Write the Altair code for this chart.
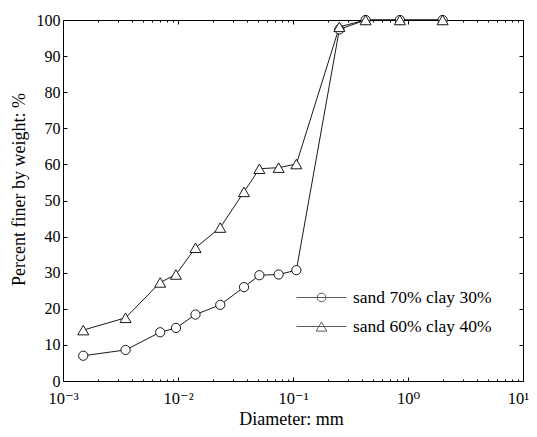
import altair as alt
import pandas as pd

# ---- data ----
diameter_mm = [0.0015, 0.0035, 0.0070, 0.0096, 0.0142, 0.0233, 0.0375, 0.051,
               0.075, 0.107, 0.253, 0.428, 0.85, 2.0]
finer_sand70_clay30 = [7.0, 8.6, 13.5, 14.7, 18.4, 21.1, 26.0, 29.3, 29.5, 30.7,
                       97.4, 100, 100, 100]
finer_sand60_clay40 = [14.1, 17.5, 27.3, 29.5, 36.9, 42.5, 52.4, 58.8, 59.1, 60.1,
                       98.1, 100, 100, 100]
series_names = ["sand 70% clay 30%", "sand 60% clay 40%"]

x_major = [0.001, 0.01, 0.1, 1, 10]
x_major_labels = ["10⁻³", "10⁻²", "10⁻¹", "10⁰", "10¹"]
x_minor = [m * 10.0 ** k for k in range(-3, 1) for m in range(2, 10)]
y_ticks = [0, 10, 20, 30, 40, 50, 60, 70, 80, 90, 100]

rows = []
for name, vals in zip(series_names, [finer_sand70_clay30, finer_sand60_clay40]):
    for i, (d, v) in enumerate(zip(diameter_mm, vals)):
        rows.append({"series": name, "diameter": d, "finer": v, "idx": i})
df = pd.DataFrame(rows)

FONT = "'Liberation Serif', 'Times New Roman', 'DejaVu Serif', serif"

x_scale = alt.Scale(type="log", domain=[0.001, 10], nice=False)
y_scale = alt.Scale(domain=[0, 100], nice=False, zero=False)

parts = [f"abs(datum.value - {v}) < {v * 0.01} ? '{l}'" for v, l in zip(x_major, x_major_labels)]
label_expr = " : ".join(parts) + " : ''"

common = dict(domain=False, grid=False, tickColor="black", tickWidth=1,
              labelFont=FONT, titleFont=FONT, labelColor="black", titleColor="black",
              labelFlush=False, labelOverlap=False, labelBound=False)

ax_bottom = alt.Axis(orient="bottom", values=x_major, labelExpr=label_expr,
                     offset=-4, tickSize=4, labelPadding=22, labelBaseline="alphabetic",
                     labelOffset={"condition": {"test": "datum.value > 5", "value": -5},
                                  "value": 0},
                     labelFontSize=16.5, title="Diameter: mm", titleFontSize=18,
                     titleFontWeight="normal", titleX=228, titleY=47,
                     titleBaseline="alphabetic", titleAlign="center", **common)
ax_bottom_minor = alt.Axis(orient="bottom", values=x_minor, offset=-2, tickSize=2,
                           labels=False, title=None, **common)
ax_top = alt.Axis(orient="top", values=x_major, offset=-4, tickSize=4,
                  labels=False, title=None, **common)
ax_top_minor = alt.Axis(orient="top", values=x_minor, offset=-2, tickSize=2,
                        labels=False, title=None, **common)
ax_left = alt.Axis(orient="left", values=y_ticks, offset=-4, tickSize=4, labelPadding=3,
                   labelFontSize=16, title="Percent finer by weight: %", titleFontSize=18,
                   titleFontWeight="normal", titleAngle=-90, titleX=-48, titleY=169,
                   titleBaseline="middle", titleAlign="center", **common)
ax_right = alt.Axis(orient="right", values=y_ticks, offset=-4, tickSize=4,
                    labels=False, title=None, **common)

base = alt.Chart(df)

lines = base.mark_line(color="black", strokeWidth=0.9).encode(
    x=alt.X("diameter:Q", scale=x_scale, axis=ax_bottom),
    y=alt.Y("finer:Q", scale=y_scale, axis=ax_left),
    detail="series:N",
    order="idx:Q",
)

points = base.mark_point(filled=True, fill="white", stroke="black",
                         strokeWidth=0.9, opacity=1).encode(
    x=alt.X("diameter:Q", scale=x_scale, axis=ax_top),
    y=alt.Y("finer:Q", scale=y_scale, axis=ax_right),
    shape=alt.Shape("series:N", scale=alt.Scale(domain=series_names,
                                                range=["circle", "triangle-up"]),
                    legend=None),
    size=alt.Size("series:N", scale=alt.Scale(domain=series_names, range=[85, 121]),
                  legend=None),
)

circle_path = ("M-2.5,0H2.5M0.43,0A0.43,0.43 0 1,1 -0.43,0A0.43,0.43 0 1,1 0.43,0")
tri_path = "M-2.5,0H2.5M0,-0.46L0.53,0.46L-0.53,0.46Z"

legend_layer = base.transform_filter("false").mark_point(
    filled=False, color="black", strokeWidth=0.9).encode(
    x=alt.X("diameter:Q", scale=x_scale, axis=ax_bottom_minor),
    shape=alt.Shape("series:N",
                    scale=alt.Scale(domain=series_names, range=[circle_path, tri_path]),
                    legend=alt.Legend(orient="none", legendX=248, legendY=267, title=None,
                                      labelFont=FONT, labelFontSize=17.5, labelColor="black",
                                      symbolSize=400, symbolStrokeWidth=0.9,
                                      symbolStrokeColor="black", labelOffset=21,
                                      rowPadding=10, padding=0)),
)

top_minor_layer = base.transform_filter("false").mark_point(color="black").encode(
    x=alt.X("diameter:Q", scale=x_scale, axis=ax_top_minor),
)

chart = alt.layer(lines, points, legend_layer, top_minor_layer).resolve_axis(
    x="independent", y="independent"
).resolve_scale(shape="independent", size="independent").properties(
    width=460, height=361,
    autosize=alt.AutoSizeParams(type="none"),
    padding={"left": 55, "top": 12, "right": 6, "bottom": 48},
    background="white",
).configure_view(stroke="black", strokeWidth=1)

chart.save("out.html", embed_options={"renderer": "svg", "actions": False})
